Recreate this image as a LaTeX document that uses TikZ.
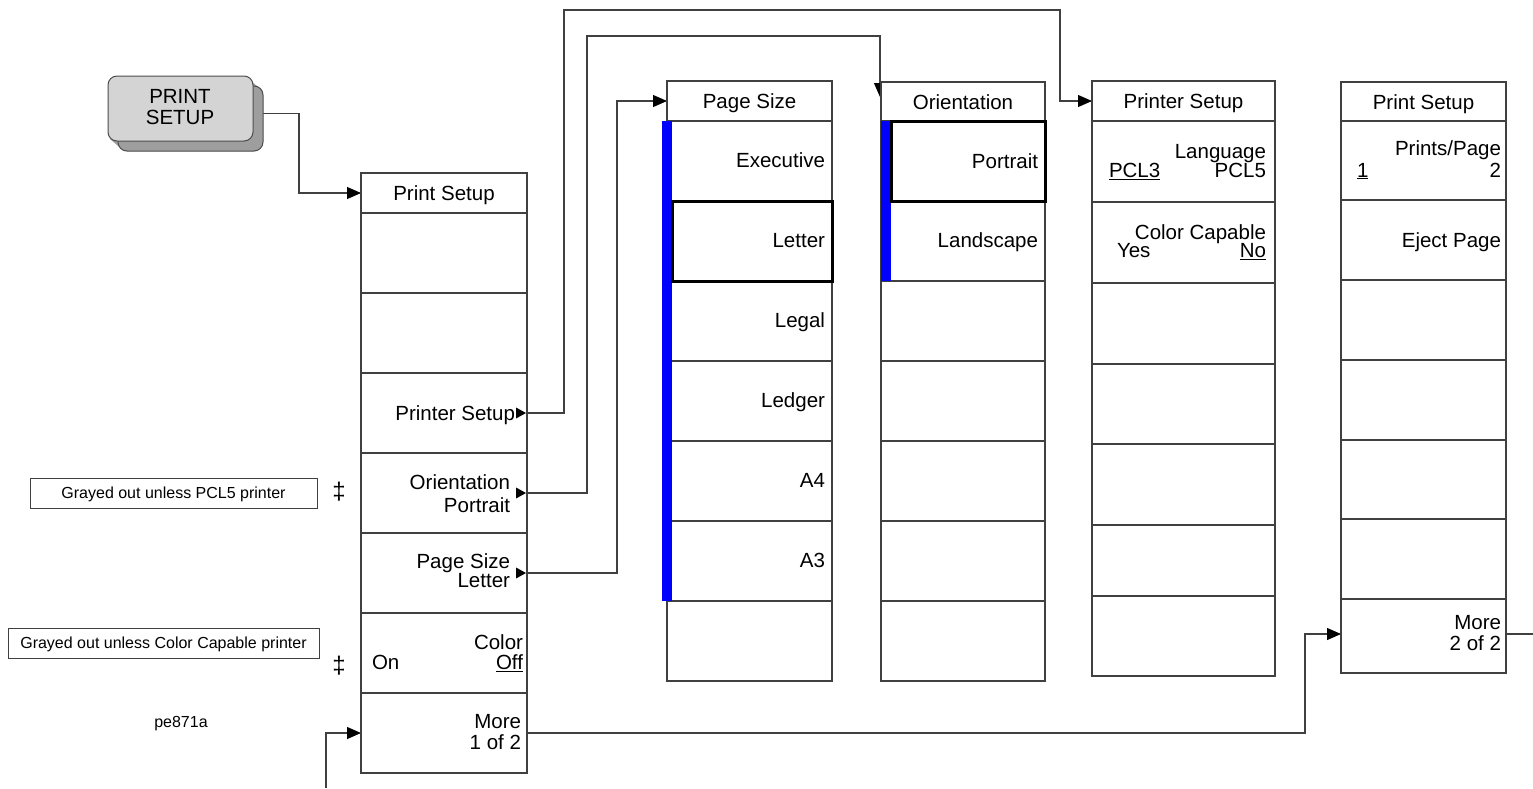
\documentclass[tikz,border=0pt]{standalone}
\usepackage{fontspec}
\setmainfont{Liberation Sans}
\usetikzlibrary{arrows.meta,calc,backgrounds}
\newcommand\kf{\fontsize{20.5}{24}\selectfont}
\newcommand\smallnf{\fontsize{16}{18}\selectfont}
\begin{document}
\begin{tikzpicture}[x=1pt,y=-1pt,
  every node/.style={inner sep=0pt,outer sep=0pt},
  box/.style={draw=black!75,line width=1.1pt,fill=white,rectangle,anchor=north west},
  ttlbox/.style={box,minimum height=40pt,font=\kf,text height=14.7pt,text depth=0pt},
  lbl/.style={font=\kf,anchor=base east},
  lbll/.style={font=\kf,anchor=base west},
  conn/.style={draw=black!75,line width=1.1pt},
  arr/.style={conn,-{Triangle[length=14pt,width=12pt,color=black,fill=black]}},
  sel/.style={draw=black,line width=3pt},
  bar/.style={fill=blue},
  note/.style={draw=black!75,line width=1pt,minimum height=30pt,font=\smallnf,text height=11.5pt,text depth=0pt},
  tri/.style={fill=black},
  dag/.style={font=\fontsize{24}{26}\selectfont}
]
\useasboundingbox (0,0) rectangle (1533,788);

% hard key
\fill[black!38] (246,77) -- (262,90) -- (262,146) -- (256,151) -- (124,151) -- (110,139) -- cycle;
\node[draw=black!70,fill=black!38,rounded corners=9pt,minimum width=145pt,minimum height=65pt,anchor=north west,line width=1pt] (hks) at (118,86) {};
\node[draw=black!70,fill=black!17,rounded corners=9pt,minimum width=145pt,minimum height=65pt,anchor=north west,line width=1pt] (hk) at (108,76) {};
\node[font=\kf,anchor=base] (hkt1) at (180,103) {PRINT};
\node[font=\kf,anchor=base] (hkt2) at (180,124.8) {SETUP};

% notes
\node[note,minimum width=287pt] (n1) at (173.5,493) {Grayed out unless PCL5 printer};
\node[note,minimum width=311pt] (n2) at (163.5,643) {Grayed out unless Color Capable printer};
\node[dag] (dg1) at (339,492) {‡};
\node[dag] (dg2) at (339,666) {‡};
\node[font=\smallnf,anchor=base] (pe) at (181,727.7) {pe871a};

% Print Setup 1
\node[ttlbox,minimum width=166pt] (ps1t) at (361,173) {Print Setup};
\foreach \i in {1,...,7}
  \node[box,minimum width=166pt,minimum height=80pt] (ps1k\i) at (361,{213+80*(\i-1)}) {};
\node[lbl] (a1) at (515,420) {Printer Setup};
\node[lbl] (a2) at (510,489) {Orientation};
\node[lbl] (a3) at (510,512) {Portrait};
\node[lbl] (a4) at (510,568.6) {Page Size};
\node[lbl] (a5) at (510,587.3) {Letter};
\node[lbl] (a6) at (523,649) {Color};
\node[lbl] (a7) at (523,669.3) {\underline{Off}};
\node[lbll] (a8) at (372,669.3) {On};
\node[lbl] (a9) at (521,728.3) {More};
\node[lbl] (a10) at (521,749.3) {1 of 2};
\fill[tri] (526,413) -- (516,407.5) -- (516,418.5) -- cycle;
\fill[tri] (526,493) -- (516,487.5) -- (516,498.5) -- cycle;
\fill[tri] (526,573) -- (516,567.5) -- (516,578.5) -- cycle;

% Page Size
\node[ttlbox,minimum width=165pt] (pst) at (667,81) {Page Size};
\foreach \i in {1,...,7}
  \node[box,minimum width=165pt,minimum height=80pt] (psk\i) at (667,{121+80*(\i-1)}) {};
\foreach \t [count=\i] in {Executive,Letter,Legal,Ledger,A4,A3}
  \node[lbl] (psl\i) at (825,{121+80*(\i-1)+46.5}) {\t};
\fill[bar] (662,121) rectangle (672,601);
\draw[sel] (672,201) rectangle (832,281);

% Orientation
\node[ttlbox,minimum width=164pt] (ort) at (881,82) {Orientation};
\foreach \i in {1,...,7}
  \node[box,minimum width=164pt,minimum height=80pt] (ork\i) at (881,{121+80*(\i-1)}) {};
\node[lbl] (orl1) at (1038,168) {Portrait};
\node[lbl] (orl2) at (1038,247.3) {Landscape};
\fill[bar] (881,121) rectangle (891,281);
\draw[sel] (891,121) rectangle (1045,201);

% Printer Setup
\node[ttlbox,minimum width=183pt] (prt) at (1092,81) {Printer Setup};
\foreach \a/\b [count=\i] in {121/202,202/283,283/364,364/444,444/525,525/596,596/676}
  \node[box,minimum width=183pt,minimum height={\b-\a}] (prk\i) at (1092,\a) {};
\node[lbl] (prl1) at (1266,158) {Language};
\node[lbl] (prl2) at (1266,177.3) {PCL5};
\node[lbll] (prl3) at (1109,177.3) {\underline{PCL3}};
\node[lbl] (prl4) at (1266,239.3) {Color Capable};
\node[lbll] (prl5) at (1117,257.3) {Yes};
\node[lbl] (prl6) at (1266,257.3) {\underline{No}};

% Print Setup 2
\node[ttlbox,minimum width=165pt] (ps2t) at (1341,82) {Print Setup};
\foreach \a/\b [count=\i] in {121/200,200/280,280/360,360/440,440/519,519/599,599/673}
  \node[box,minimum width=165pt,minimum height={\b-\a}] (ps2k\i) at (1341,\a) {};
\node[lbl] (b1) at (1501,155.3) {Prints/Page};
\node[lbl] (b2) at (1501,177) {2};
\node[lbll] (b3) at (1357,177) {\underline{1}};
\node[lbl] (b4) at (1501,247) {Eject Page};
\node[lbl] (b5) at (1501,629) {More};
\node[lbl] (b6) at (1501,650) {2 of 2};

% connectors
\coordinate (bstart) at (326,788);
\coordinate (rend) at (1533,634);
\begin{scope}[on background layer]
\draw[arr] ($(hks.east)+(0,-5)$) -- (299,113.5) |- (ps1t.west);
\draw[arr] (ps1k3.east) -- (564,413) -- (564,10) -- (1060,10) |- (prt.west);
\draw[arr] (ps1k4.east) -- (587,493) -- (587,36) -- (880,36) -- ($(ort.north west)+(-1,15)$);
\draw[arr] (ps1k5.east) -- (617,573) |- (pst.west);
\draw[arr] (ps1k7.east) -- (1305,733) |- ($(ps2k7.west)+(0,-2)$);
\draw[arr] (bstart) |- (ps1k7.west);
\draw[conn] ($(ps2k7.east)+(0,-2)$) -- (rend);
\end{scope}
\end{tikzpicture}
\end{document}
